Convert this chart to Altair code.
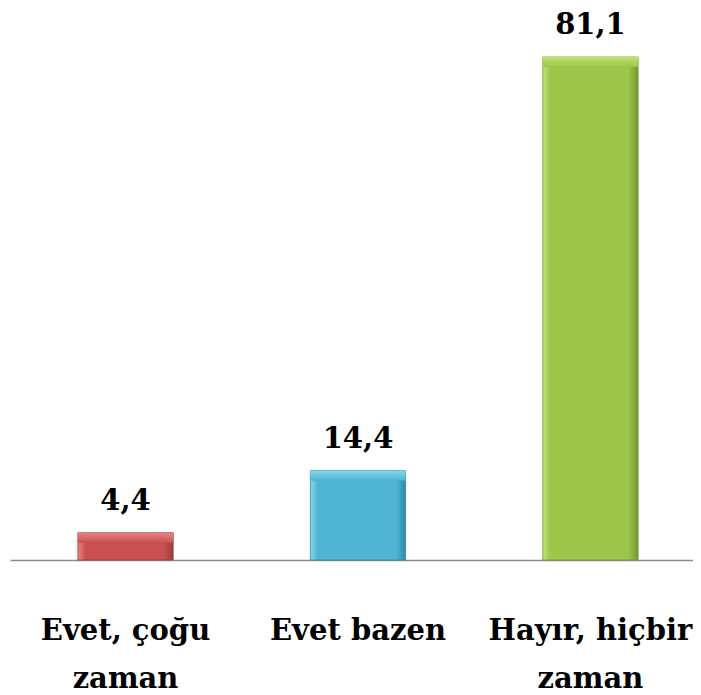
import altair as alt
import pandas as pd

categories = ["Evet, çoğu zaman", "Evet bazen", "Hayır, hiçbir zaman"]
values = [4.4, 14.4, 81.1]
value_labels = ["4,4", "14,4", "81,1"]
main_colors = ["#C9504E", "#4FB5D3", "#9DC54A"]
light_colors = ["#E88683", "#86D6EC", "#C2E377"]
dark_colors = ["#98403D", "#2E8AA6", "#72972F"]

df = pd.DataFrame({"cat": categories, "v": values, "lab": value_labels})

FONT = "DejaVu Serif"
x_enc = alt.X(
    "cat:N",
    sort=categories,
    title=None,
    scale=alt.Scale(range=[0, 696], paddingInner=0.59, paddingOuter=0.292),
    axis=alt.Axis(
        labelAngle=0,
        ticks=False,
        grid=False,
        domainColor="#8c8c8c",
        domainWidth=1.5,
        labelFont=FONT,
        labelFontWeight="bold",
        labelFontSize=29,
        labelColor="#000000",
        labelBaseline="alphabetic",
        labelPadding=79,
        labelLineHeight=48,
        labelLimit=0,
        labelOverlap=False,
        labelExpr="datum.label == 'Evet bazen' ? datum.label : split(replace(datum.label, ' zaman', '|zaman'), '|')",
    ),
)
y_scale = alt.Scale(domain=[0, 81.1], nice=False)
y_enc = alt.Y("v:Q", scale=y_scale, axis=None)

layers = []
for i, c in enumerate(categories):
    base = alt.Chart(df).transform_filter(alt.datum.cat == c)
    grad_h = alt.Gradient(
        gradient="linear",
        x1=0, x2=1, y1=0, y2=0,
        stops=[
            alt.GradientStop(offset=0, color=light_colors[i]),
            alt.GradientStop(offset=0.08, color=main_colors[i]),
            alt.GradientStop(offset=0.9, color=main_colors[i]),
            alt.GradientStop(offset=1, color=dark_colors[i]),
        ],
    )
    bar = base.mark_bar(color=grad_h, stroke=dark_colors[i], strokeWidth=0.8).encode(
        x=x_enc, y=y_enc, y2=alt.datum(0)
    )
    grad_v = alt.Gradient(
        gradient="linear",
        x1=0, x2=0, y1=0, y2=1,
        stops=[
            alt.GradientStop(offset=0, color=light_colors[i]),
            alt.GradientStop(offset=1, color=main_colors[i]),
        ],
    )
    top = base.transform_calculate(vt="datum.v - 1.6").mark_bar(color=grad_v).encode(
        x=x_enc, y=y_enc, y2=alt.Y2("vt:Q")
    )
    layers += [bar, top]

text = alt.Chart(df).mark_text(
    font=FONT, fontWeight="bold", fontSize=29, color="#000000",
    baseline="alphabetic", dy=-23,
).encode(x=x_enc, y=y_enc, text="lab:N")

chart = alt.layer(*layers, text).properties(
    width=683,
    height=503,
    autosize=alt.AutoSizeParams(type="none"),
    padding={"left": 2, "top": 49, "right": 0, "bottom": 135},
).configure_view(stroke=None)

chart.save("out.html", embed_options={"renderer": "svg", "actions": False})
